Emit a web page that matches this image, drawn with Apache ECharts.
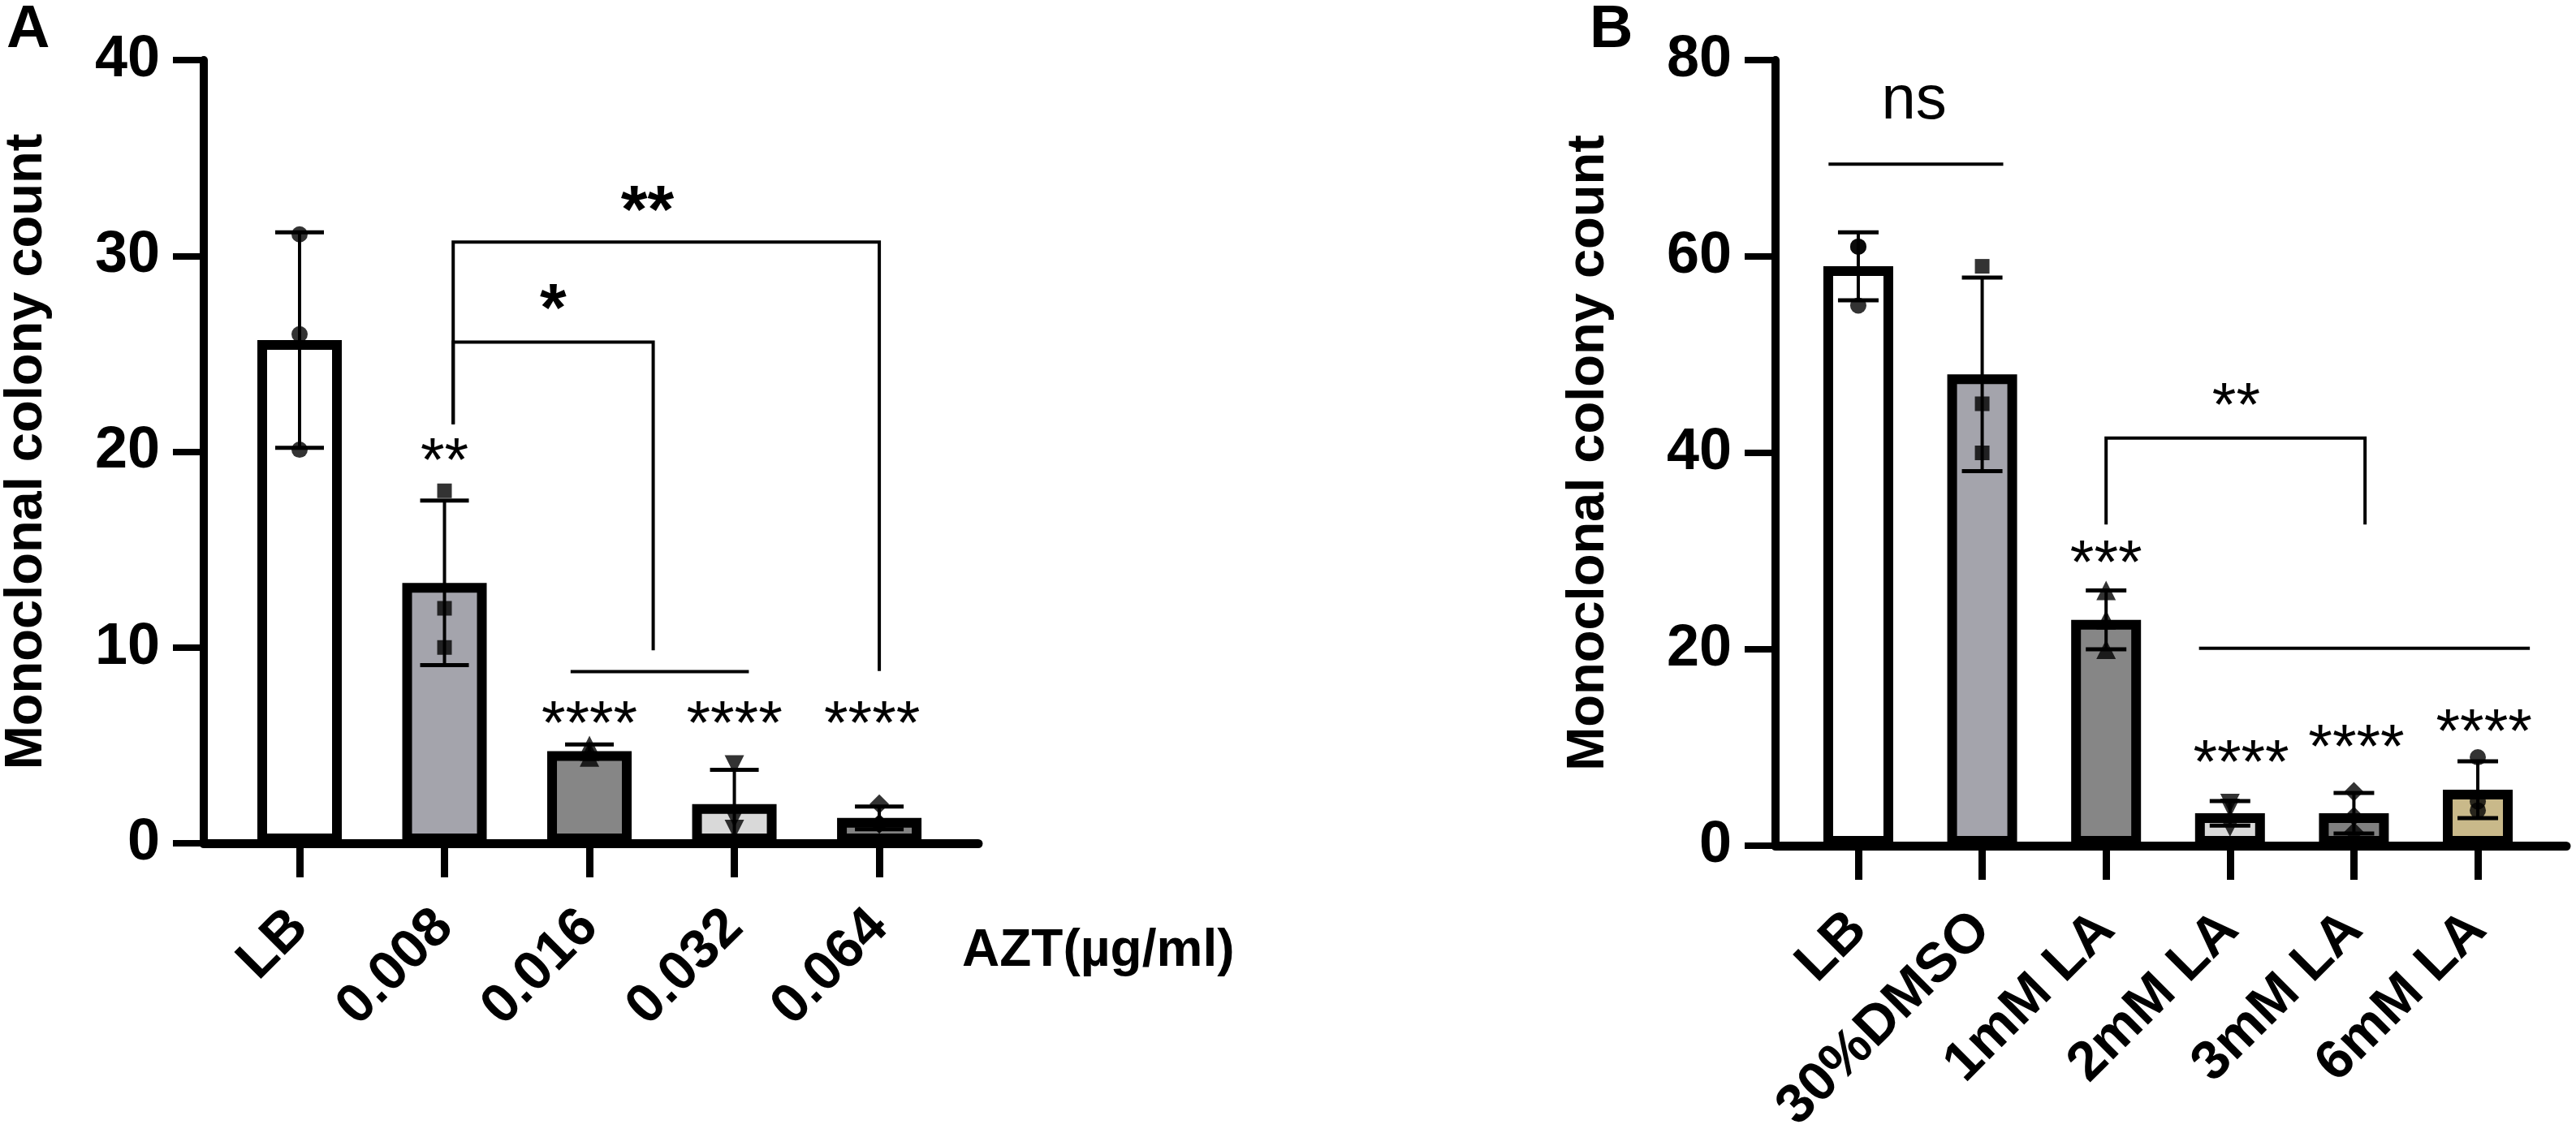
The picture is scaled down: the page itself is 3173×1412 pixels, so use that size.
<!DOCTYPE html>
<html>
<head>
<meta charset="utf-8">
<script src="https://cdn.jsdelivr.net/npm/echarts@6/dist/echarts.min.js"></script>
<style>
html,body{margin:0;padding:0;background:#fff;}
#chart{width:3173px;height:1412px;}
</style>
</head>
<body>
<div id="chart"></div>
<script>
// ---------- Panel A data ----------
const catsA = ['LB', '0.008', '0.016', '0.032', '0.064'];
const meanA = [25.7, 13.3, 4.7, 2.0, 1.3];
const sdA = [5.5, 4.2, 0.35, 1.75, 0.58];
const ptsA = [[31.1, 26.0, 20.1], [18.0, 12.0, 10.0], [5.0, 4.7, 4.4], [4.0, 1.3, 0.7], [2.0, 1.0, 1.0]];
const colorsA = ['#ffffff', '#a4a4ac', '#868686', '#d9d9d9', '#828282'];
const symA = ['circle', 'rect', 'triangle', 'downTriangle', 'diamond'];
const ticksA = [0, 10, 20, 30, 40];
// brackets: [xLeft, yLeftEnd, xRight, yRightEnd, yTop]
const bracketsA = [[1.06, 21.4, 4.0, 8.8, 30.7], [1.06, 21.4, 2.44, 9.85, 25.6]];
// horizontal lines: [xStart, xEnd, y]
const linesA = [[1.87, 3.10, 8.77]];
// significance labels: [text, x, y, weight]
const starsA = [['**', 2.4, 32.9, 'bold'], ['*', 1.75, 27.9, 'bold'], ['**', 1, 20.1, 'normal'],
                ['****', 2, 6.65, 'normal'], ['****', 3, 6.65, 'normal'], ['****', 3.95, 6.65, 'normal']];

// ---------- Panel B data ----------
const catsB = ['LB', '30%DMSO', '1mM LA', '2mM LA', '3mM LA', '6mM LA'];
const meanB = [59.0, 48.0, 23.0, 3.3, 3.3, 5.7];
const sdB = [3.46, 9.85, 3.0, 1.25, 2.07, 2.9];
const ptsB = [[61.0, 61.0, 55.0], [59.0, 45.0, 40.0], [26.0, 23.0, 20.0], [4.3, 3.8, 1.9], [5.5, 3.0, 1.4], [9.0, 4.5, 3.6]];
const colorsB = ['#ffffff', '#a4a4ac', '#868686', '#d9d9d9', '#808080', '#c9b98a'];
const symB = ['circle', 'rect', 'triangle', 'downTriangle', 'diamond', 'circle'];
const ticksB = [0, 20, 40, 60, 80];
const bracketsB = [[2.0, 32.7, 4.09, 32.7, 41.5]];
const linesB = [[-0.24, 1.17, 69.4], [2.75, 5.42, 20.1]];
const starsB = [['ns', 0.45, 75.3, 'normal'], ['**', 3.05, 45.9, 'normal'], ['***', 2, 29.9, 'normal'],
                ['****', 3.09, 9.6, 'normal'], ['****', 4.02, 11.1, 'normal'], ['****', 5.05, 12.7, 'normal']];

const FONT = '"Liberation Sans", Arial, Helvetica, sans-serif';

const chart = echarts.init(document.getElementById('chart'), null, {renderer: 'canvas'});

function xAxisDef(gridIndex, cats, min, max) {
  const idx = cats.map((c, i) => i);
  return {
    gridIndex: gridIndex, type: 'value', min: min, max: max,
    axisLine: {show: true, onZero: false, lineStyle: {color: '#000', width: 11}},
    axisTick: {show: true, customValues: idx, length: 42, lineStyle: {color: '#000', width: 9}},
    axisLabel: {show: true, customValues: idx, rotate: 45, margin: 93, hideOverlap: false,
      formatter: v => cats[Math.round(v)] || '',
      color: '#000', fontFamily: FONT, fontWeight: 'bold', fontSize: 68},
    splitLine: {show: false}
  };
}
function yAxisDef(gridIndex, ticks, nameGap) {
  return {
    gridIndex: gridIndex, type: 'value', min: ticks[0], max: ticks[ticks.length - 1],
    interval: ticks[1] - ticks[0],
    name: 'Monoclonal colony count', nameLocation: 'middle', nameRotate: 90, nameGap: nameGap,
    nameTextStyle: {color: '#000', fontFamily: FONT, fontWeight: 'bold', fontSize: 65},
    axisLine: {show: true, onZero: false, lineStyle: {color: '#000', width: 10}},
    axisTick: {show: true, length: 38, lineStyle: {color: '#000', width: 8}},
    axisLabel: {color: '#000', fontFamily: FONT, fontWeight: 'bold', fontSize: 72, margin: 54},
    splitLine: {show: false}
  };
}

function barSeries(axisIdx, means, colors, barWidth) {
  return {
    type: 'bar', xAxisIndex: axisIdx, yAxisIndex: axisIdx, barWidth: barWidth, z: 2,
    data: means.map((m, i) => ({value: [i, m], itemStyle: {color: colors[i], borderColor: '#000', borderWidth: 12}}))
  };
}
function errSeries(axisIdx, means, sds, halfCap) {
  return {
    type: 'custom', xAxisIndex: axisIdx, yAxisIndex: axisIdx, z: 3, clip: false,
    data: means.map((m, i) => [i, m - sds[i], m + sds[i]]),
    renderItem: function (params, api) {
      const x = api.value(0);
      const lo = api.coord([x, api.value(1)]);
      const hi = api.coord([x, api.value(2)]);
      const st = {stroke: '#000', lineWidth: 4, fill: null};
      return {type: 'group', children: [
        {type: 'line', shape: {x1: lo[0], y1: lo[1], x2: hi[0], y2: hi[1]}, style: st},
        {type: 'line', shape: {x1: hi[0] - halfCap, y1: hi[1], x2: hi[0] + halfCap, y2: hi[1]}, style: {stroke: '#000', lineWidth: 5}},
        {type: 'line', shape: {x1: lo[0] - halfCap, y1: lo[1], x2: lo[0] + halfCap, y2: lo[1]}, style: {stroke: '#000', lineWidth: 5}}
      ]};
    }
  };
}
function ptSeries(axisIdx, pts, syms) {
  const data = [];
  pts.forEach((arr, i) => arr.forEach(v => {
    let s = syms[i], rot = 0;
    if (s === 'downTriangle') { s = 'triangle'; rot = 180; }
    const size = s === 'rect' ? 18 : (s === 'triangle' ? 24 : (s === 'diamond' ? 24 : 20));
    data.push({value: [i, v], symbol: s, symbolRotate: rot, symbolSize: size});
  }));
  return {type: 'scatter', xAxisIndex: axisIdx, yAxisIndex: axisIdx, z: 4,
    itemStyle: {color: '#000'}, data: data};
}
function bracketSeries(axisIdx, brackets) {
  return {
    type: 'custom', xAxisIndex: axisIdx, yAxisIndex: axisIdx, z: 5, clip: false,
    data: brackets,
    renderItem: function (params, api) {
      const a = api.coord([api.value(0), api.value(1)]);
      const b = api.coord([api.value(0), api.value(4)]);
      const c = api.coord([api.value(2), api.value(4)]);
      const d = api.coord([api.value(2), api.value(3)]);
      return {type: 'polyline', shape: {points: [a, b, c, d]}, style: {stroke: '#000', lineWidth: 4, fill: null}};
    }
  };
}
function lineSeries(axisIdx, lines) {
  return {
    type: 'custom', xAxisIndex: axisIdx, yAxisIndex: axisIdx, z: 5, clip: false,
    data: lines,
    renderItem: function (params, api) {
      const a = api.coord([api.value(0), api.value(2)]);
      const b = api.coord([api.value(1), api.value(2)]);
      return {type: 'line', shape: {x1: a[0], y1: a[1], x2: b[0], y2: b[1]}, style: {stroke: '#000', lineWidth: 4}};
    }
  };
}
function starSeries(axisIdx, stars) {
  return {
    type: 'custom', xAxisIndex: axisIdx, yAxisIndex: axisIdx, z: 6, clip: false,
    data: stars.map(s => [s[1], s[2]]),
    renderItem: function (params, api) {
      const s = stars[params.dataIndex];
      const p = api.coord([api.value(0), api.value(1)]);
      const bold = s[3] === 'bold';
      const size = bold ? 84 : 76;
      // asterisks sit high in the em box: shift so the glyph centre lands on the point
      const dy = s[0] === 'ns' ? -6 : 0.22 * size;
      return {type: 'text', x: p[0], y: p[1] + dy,
        style: {text: s[0], fill: '#000', font: (bold ? 'bold ' : '') + size + 'px ' + FONT,
          textAlign: 'center', align: 'center', textVerticalAlign: 'middle', verticalAlign: 'middle'}};
    }
  };
}

const option = {
  backgroundColor: '#fff',
  animation: false,
  grid: [
    {left: 235, top: 74, width: 970, height: 965},
    {left: 2187, top: 74, width: 974, height: 968}
  ],
  xAxis: [xAxisDef(0, catsA, -0.661, 4.683), xAxisDef(1, catsB, -0.668, 5.714)],
  yAxis: [yAxisDef(0, ticksA, 185), yAxisDef(1, ticksB, 197)],
  graphic: [
    {type: 'text', x: 8, y: 38, style: {text: 'A', fill: '#000', font: 'bold 74px ' + FONT, textVerticalAlign: 'middle', verticalAlign: 'middle'}},
    {type: 'text', x: 1958, y: 38, style: {text: 'B', fill: '#000', font: 'bold 74px ' + FONT, textVerticalAlign: 'middle', verticalAlign: 'middle'}},
    {type: 'text', x: 1185, y: 1172, style: {text: 'AZT(µg/ml)', fill: '#000', font: 'bold 64px ' + FONT, textVerticalAlign: 'middle', verticalAlign: 'middle'}}
  ],
  series: [
    barSeries(0, meanA, colorsA, 104),
    errSeries(0, meanA, sdA, 30),
    ptSeries(0, ptsA, symA),
    bracketSeries(0, bracketsA),
    lineSeries(0, linesA),
    starSeries(0, starsA),
    barSeries(1, meanB, colorsB, 86),
    errSeries(1, meanB, sdB, 25),
    ptSeries(1, ptsB, symB),
    bracketSeries(1, bracketsB),
    lineSeries(1, linesB),
    starSeries(1, starsB)
  ]
};
chart.setOption(option);
</script>
</body>
</html>
